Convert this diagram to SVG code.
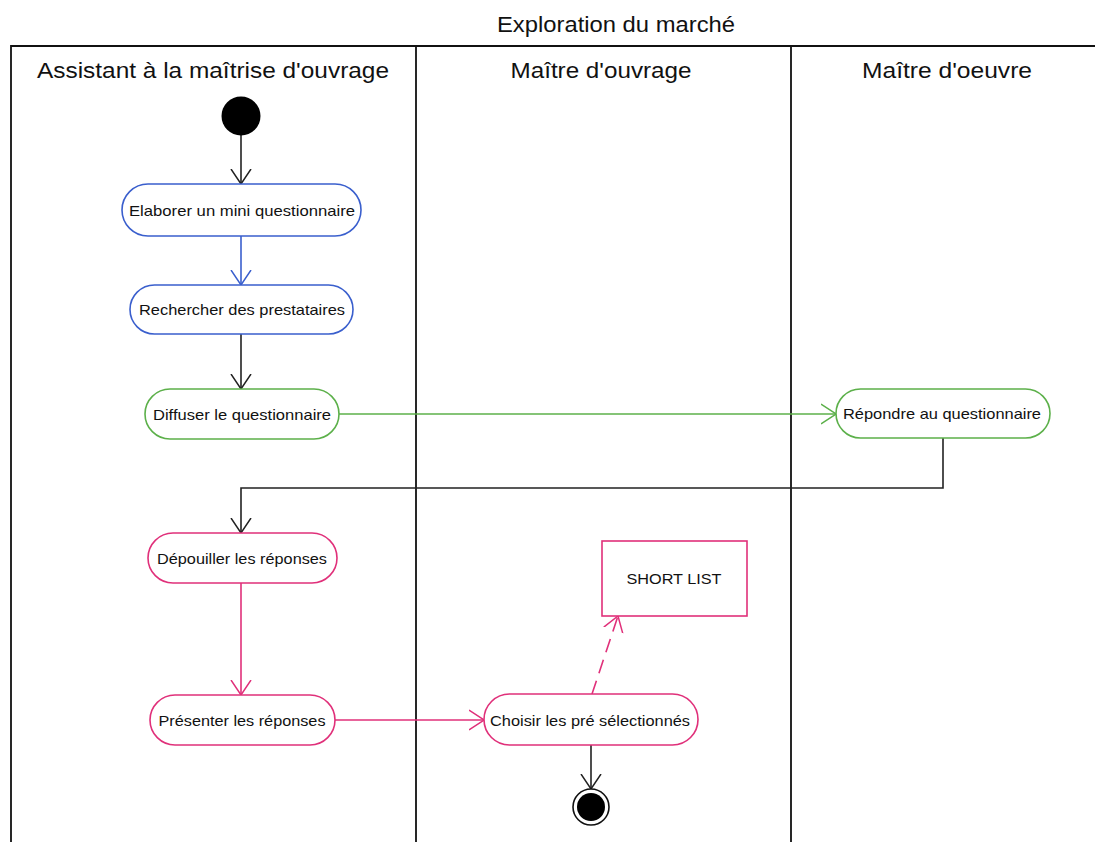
<svg xmlns="http://www.w3.org/2000/svg" width="1095" height="842" viewBox="0 0 1095 842">
  <style>
    .lbl { font-family: "Liberation Sans", Arial, sans-serif; font-size: 15px; fill: #111; text-anchor: middle; dominant-baseline: central; }
    .lane { font-family: "Liberation Sans", Arial, sans-serif; font-size: 22px; fill: #111; text-anchor: middle; }
    .frame { fill: none; stroke: #111; stroke-width: 1.8; }
    .act { fill: #fff; stroke-width: 1.6; }
    .blue { stroke: #3a5fcd; }
    .green { stroke: #5cb04a; }
    .pink { stroke: #e0307a; }
    .black { stroke: #222; }
    .edge { fill: none; stroke-width: 1.6; }
  </style>
  <defs>
    <marker id="ah-black" viewBox="0 0 15 22" refX="15" refY="11" markerWidth="15" markerHeight="22" markerUnits="userSpaceOnUse" orient="auto">
      <path d="M0,1 L15,11 L0,21" fill="none" stroke="#222" stroke-width="1.5"/>
    </marker>
    <marker id="ah-blue" viewBox="0 0 15 22" refX="15" refY="11" markerWidth="15" markerHeight="22" markerUnits="userSpaceOnUse" orient="auto">
      <path d="M0,1 L15,11 L0,21" fill="none" stroke="#3a5fcd" stroke-width="1.5"/>
    </marker>
    <marker id="ah-green" viewBox="0 0 15 22" refX="15" refY="11" markerWidth="15" markerHeight="22" markerUnits="userSpaceOnUse" orient="auto">
      <path d="M0,1 L15,11 L0,21" fill="none" stroke="#5cb04a" stroke-width="1.5"/>
    </marker>
    <marker id="ah-pink" viewBox="0 0 15 22" refX="15" refY="11" markerWidth="15" markerHeight="22" markerUnits="userSpaceOnUse" orient="auto">
      <path d="M0,1 L15,11 L0,21" fill="none" stroke="#e0307a" stroke-width="1.5"/>
    </marker>
  </defs>

  <rect width="1095" height="842" fill="#fff"/>

  <!-- swimlane frame -->
  <g id="swimlanes">
    <text class="lane" x="616" y="32" textLength="238" lengthAdjust="spacingAndGlyphs">Exploration du marché</text>
    <path class="frame" d="M11,842 L11,46 L1095,46 M416,46 L416,842 M791,46 L791,842"/>
    <text class="lane" x="213" y="78" textLength="352" lengthAdjust="spacingAndGlyphs">Assistant à la maîtrise d'ouvrage</text>
    <text class="lane" x="601" y="78" textLength="181" lengthAdjust="spacingAndGlyphs">Maître d'ouvrage</text>
    <text class="lane" x="947" y="78" textLength="170" lengthAdjust="spacingAndGlyphs">Maître d'oeuvre</text>
  </g>

  <!-- connectors -->
  <g id="connectors">
    <path class="edge black" d="M241,135 L241,184" marker-end="url(#ah-black)"/>
    <path class="edge blue" d="M241,236 L241,285" marker-end="url(#ah-blue)"/>
    <path class="edge black" d="M241,334 L241,389" marker-end="url(#ah-black)"/>
    <path class="edge green" d="M339,414 L836,414" marker-end="url(#ah-green)"/>
    <path class="edge black" d="M943,438 L943,488 L241,488 L241,533" marker-end="url(#ah-black)"/>
    <path class="edge pink" d="M241,583 L241,695" marker-end="url(#ah-pink)"/>
    <path class="edge pink" d="M335,720 L484,720" marker-end="url(#ah-pink)"/>
    <path class="edge pink" d="M592,694 L618,616" stroke-dasharray="14,8" marker-end="url(#ah-pink)"/>
    <path class="edge black" d="M591,745 L591,789" marker-end="url(#ah-black)"/>
  </g>

  <g id="start">
    <circle cx="241" cy="116" r="19.5" fill="#000"/>
  </g>

  <g id="elaborer">
    <rect class="act blue" x="122" y="184" width="239" height="52" rx="26"/>
    <text class="lbl" x="242" y="210" textLength="226" lengthAdjust="spacingAndGlyphs">Elaborer un mini questionnaire</text>
  </g>

  <g id="rechercher">
    <rect class="act blue" x="130" y="285" width="223" height="49" rx="24.5"/>
    <text class="lbl" x="242" y="309" textLength="206" lengthAdjust="spacingAndGlyphs">Rechercher des prestataires</text>
  </g>

  <g id="diffuser">
    <rect class="act green" x="145" y="389" width="194" height="50" rx="25"/>
    <text class="lbl" x="242" y="414" textLength="178" lengthAdjust="spacingAndGlyphs">Diffuser le questionnaire</text>
  </g>

  <g id="repondre">
    <rect class="act green" x="836" y="389" width="214" height="49" rx="24.5"/>
    <text class="lbl" x="942" y="413" textLength="198" lengthAdjust="spacingAndGlyphs">Répondre au questionnaire</text>
  </g>

  <g id="depouiller">
    <rect class="act pink" x="148" y="533" width="189" height="50" rx="25"/>
    <text class="lbl" x="242" y="558" textLength="170" lengthAdjust="spacingAndGlyphs">Dépouiller les réponses</text>
  </g>

  <g id="presenter">
    <rect class="act pink" x="150" y="695" width="185" height="50" rx="25"/>
    <text class="lbl" x="242" y="720" textLength="167" lengthAdjust="spacingAndGlyphs">Présenter les réponses</text>
  </g>

  <g id="choisir">
    <rect class="act pink" x="484" y="694" width="214" height="51" rx="25.5"/>
    <text class="lbl" x="590" y="720" textLength="200" lengthAdjust="spacingAndGlyphs">Choisir les pré sélectionnés</text>
  </g>

  <g id="shortlist">
    <rect class="act pink" x="602" y="541" width="145" height="75"/>
    <text class="lbl" x="674" y="578" textLength="95" lengthAdjust="spacingAndGlyphs">SHORT LIST</text>
  </g>

  <g id="end">
    <circle cx="591" cy="807" r="18" fill="#fff" stroke="#111" stroke-width="1.6"/>
    <circle cx="591" cy="807" r="14" fill="#000"/>
  </g>
</svg>
